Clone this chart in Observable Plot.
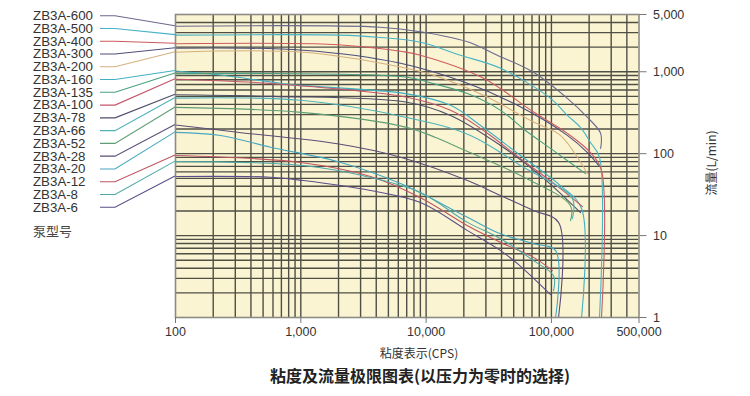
<!DOCTYPE html>
<html><head><meta charset="utf-8">
<script src="https://cdn.jsdelivr.net/npm/d3@7"></script>
<script src="https://cdn.jsdelivr.net/npm/@observablehq/plot@0.6"></script>
<style>body{margin:0;background:#fff} svg{display:block}</style>
</head><body><div id="chart"></div>
<script>
// ---- data (viscosity CPS, flow L/min) ----
const models = ["ZB3A-600","ZB3A-500","ZB3A-400","ZB3A-300","ZB3A-200","ZB3A-160","ZB3A-135","ZB3A-100","ZB3A-78","ZB3A-66","ZB3A-52","ZB3A-28","ZB3A-20","ZB3A-12","ZB3A-8","ZB3A-6"];
const colors = ["#6a6a8e","#46b4c6","#cf5a5e","#4e4e7a","#d6b07e","#42b0c0","#4aa07e","#c4566c","#4e4e6a","#4eb2ba","#5e9e74","#5c4e78","#46a8c0","#bf5662","#4ea8a8","#5c4e88"];
const s600 = [[100,3600],[4300,3500],[9000,3080],[21400,2320],[37000,1590],[72000,985],[134000,473],[194000,277],[247000,177],[247000,116]];
const s500 = [[100,2800],[2000,2800],[4100,2640],[9000,2290],[18800,1590],[39300,1100],[98400,473],[134000,293],[170600,209],[205000,137],[242000,90],[242000,1]];
const s400 = [[100,2200],[1630,2170],[4100,1940],[6250,1780],[9000,1590],[28700,832],[72000,322],[134000,177],[205000,103],[251000,62],[251000,1]];
const s300 = [[100,1940],[1050,1830],[6250,1270],[21400,723],[53600,389],[134000,167],[194000,103],[238000,72]];
const s200 = [[100,1730],[1050,1730],[6250,1143],[11450,905],[28700,515],[72000,243],[118000,167],[194000,57]];
const s160 = [[100,1020],[237,905],[813,702],[6850,541],[15660,389],[27200,221],[56700,95],[118000,40.8],[174000,21.4],[174000,1]];
const s135 = [[100,950],[6850,863],[11450,716],[21400,541],[39300,338],[62100,192],[104000,109],[187000,57]];
const s100 = [[100,810],[594,716],[6850,491],[15660,338],[28700,192],[56700,87],[118000,37.5],[177000,22.6]];
const s78  = [[100,523],[594,500],[6850,427],[15660,293],[39300,126],[81850,54],[170600,19.1]];
const s66  = [[100,477],[1000,448],[6850,279],[22600,167],[56700,71.7],[147000,28.3],[147000,16.1]];
const s52  = [[100,367],[1000,319],[6850,211],[11900,158],[20600,109],[56700,54],[142000,23.2],[142000,15.2]];
const s28  = [[100,224],[312,183],[1960,132],[6250,90.6],[21400,47],[39300,30.8],[72000,20.2],[114000,14.5],[114000,1]];
const s20  = [[100,182],[229,167],[573,120],[1960,80.3],[6250,43.2],[21400,16.7],[39300,10.5],[72000,7.97],[108000,6.55],[108000,1]];
const s12  = [[100,95],[995,78],[3600,52.6],[9020,29],[21400,13.2],[39300,8.26],[72000,5.42],[102000,3.73]];
const s8   = [[100,80],[1050,71.7],[3600,51.2],[9020,33.5],[21400,14.5],[39300,9.17],[72000,4.94],[104000,3.24],[104000,2.12]];
const s6   = [[100,52.6],[573,51.6],[1050,47],[3600,35.5],[9020,25.3],[21400,11.5],[39300,6.55],[53600,4.54],[98400,1.9]];
const series = [s600,s500,s400,s300,s200,s160,s135,s100,s78,s66,s52,s28,s20,s12,s8,s6];

const xTicks = [100,1000,10000,100000,500000];
const yTicks = [1,10,100,1000,5000];
const xGrid = [200,300,400,500,600,700,800,900,1000,2000,3000,4000,5000,6000,7000,8000,9000,10000,20000,30000,40000,50000,60000,70000,80000,90000,100000,200000,300000,400000];
const yGrid = [2,3,4,5,6,7,8,9,10,20,30,40,50,60,70,80,90,100,200,300,400,500,600,700,800,900,1000,2000,3000,4000];

const xTitle = "粘度表示(CPS)";
const yTitle = "流量(L/min)";
const legendTitle = "泵型号";
const caption = "粘度及流量极限图表(以压力为零时的选择)";

const table = models.flatMap((m, i) => series[i].map(([x, y]) => ({model: m, x, y})));
const fmt = d3.format(",");
const gridColor = "#4f4f45";
const font = "Liberation Sans, Arial, sans-serif";

const chart = Plot.plot({
  width: 750, height: 396,
  marginLeft: 175, marginRight: 111.5, marginTop: 14, marginBottom: 79,
  style: {fontFamily: font, fontSize: "13px", color: "#333", background: "#fff", overflow: "visible"},
  x: {type: "log", domain: [100, 500000]},
  y: {type: "log", domain: [1, 5000]},
  color: {domain: models, range: colors},
  marks: [
    Plot.frame({fill: "#faf4d2"}),
    Plot.ruleX(xGrid, {stroke: gridColor, strokeWidth: 1.4}),
    Plot.ruleY(yGrid, {stroke: gridColor, strokeWidth: 1.4}),
    Plot.line(table, {x: "x", y: "y", z: "model", stroke: "model", strokeWidth: 1.1, curve: "catmull-rom"}),
    Plot.frame({stroke: "#8c8c84", strokeWidth: 1.6}),
    Plot.axisX(xTicks, {anchor: "bottom", tickFormat: () => "", tickSize: 6, stroke: "#777", label: null}),
    Plot.axisY(yTicks, {anchor: "right", tickFormat: () => "", tickSize: 7, stroke: "#777", label: null}),
    Plot.text(xTicks, {x: d => d, frameAnchor: "bottom", dy: 18, text: d => fmt(d), fill: "#333", fontSize: 12.5}),
    Plot.text(yTicks, {y: d => d, frameAnchor: "right", dx: 14, textAnchor: "start", text: d => fmt(d), fill: "#333", fontSize: 12.5})
  ]
});
document.getElementById("chart").append(chart);

// annotations: labels with leader lines, titles
const svg = d3.select(chart);
const ys = chart.scale("y");
const g = svg.append("g").attr("font-family", font).attr("text-anchor", "start");
models.forEach((m, i) => {
  const ly = 15.7 + i * 12.77;
  const cy = ys.apply(series[i][0][1]);
  g.append("text").attr("x", 33).attr("y", ly).attr("dy", "0.35em")
    .attr("font-size", 12.5).attr("textLength", m.length * 7.5).attr("lengthAdjust", "spacingAndGlyphs")
    .attr("fill", "#333").text(m);
  g.append("path").attr("d", `M100,${ly}H115L175,${cy}`)
    .attr("fill", "none").attr("stroke", colors[i]).attr("stroke-width", 1.1);
});
g.append("text").attr("x", 33).attr("y", 231).attr("dy", "0.35em")
  .attr("font-family", "Noto Sans CJK SC").attr("font-size", 13).attr("fill", "#444").text(legendTitle);
svg.append("text").attr("x", 419).attr("y", 354).attr("dy", "0.35em").attr("text-anchor", "middle")
  .attr("font-family", "Noto Sans CJK SC").attr("font-size", 12).attr("fill", "#333").text(xTitle);
svg.append("text").attr("transform", "translate(712,163) rotate(-90)").attr("dy", "0.35em").attr("text-anchor", "middle")
  .attr("font-family", "Noto Sans CJK SC").attr("font-size", 12).attr("fill", "#333").text(yTitle);
svg.append("text").attr("x", 420).attr("y", 376).attr("dy", "0.35em").attr("text-anchor", "middle")
  .attr("font-family", "Noto Sans CJK SC").attr("font-weight", "bold").attr("font-size", 16).attr("fill", "#222").text(caption);
</script>
</body></html>
